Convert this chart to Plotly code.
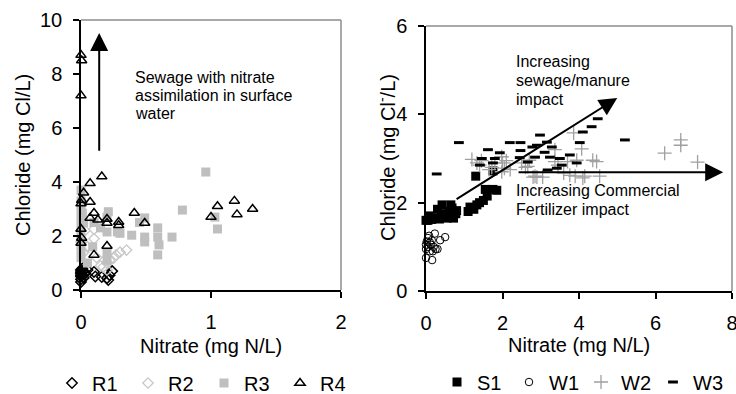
import plotly.graph_objects as go

# ---------------- Data (left panel: R1-R4) ----------------
r1_x = [0, 0, 0, 0, 0, 0, 0, 0, 0.01, 0.02, 0.03, 0.05, 0.1, 0.11, 0.16, 0.2, 0.21, 0.24, 0.22, 0.02]
r1_y = [0.3, 0.4, 0.5, 0.55, 0.6, 0.65, 0.7, 0.75, 0.8, 0.7, 0.6, 0.74, 0.67, 0.5, 0.48, 0.44, 0.37, 0.7, 0.55, 0.45]

r2_x = [0.1, 0.1, 0.35, 0.3, 0.27, 0.25, 0.22, 0.2, 0.17, 0.2, 0.03, 0.05, 0.12, 0.15, 0.0, 0.02]
r2_y = [2.25, 1.9, 1.48, 1.4, 1.3, 1.18, 1.1, 1.0, 0.85, 0.74, 2.2, 1.6, 1.2, 0.9, 1.8, 1.4]

r3_x = [0.96, 0, 0, 0, 0, 0, 0, 0, 0, 0, 0.01, 0.02, 0.2, 0.2, 0.28, 0.39, 0.49, 0.49, 0.49,
        0.59, 0.59, 0.6, 0.59, 0.7, 0.78, 0.21, 0.09, 0.2, 0.2, 1.05, 1.03, 0.3, 0.1, 0.05, 0.45, 0.15]
r3_y = [4.37, 3.7, 3.3, 3.0, 2.7, 2.4, 2.1, 1.8, 1.5, 1.2, 2.85, 2.5, 2.7, 2.15, 2.15, 2.03, 2.67, 1.96, 1.78,
        2.3, 1.96, 1.67, 1.3, 1.96, 2.96, 2.9, 1.6, 1.37, 1.1, 2.26, 2.7, 2.1, 2.5, 1.0, 2.5, 2.3]

r4_x = [0, 0.005, 0, 0.16, 0.07, 0.02, 0.005, 0, 0.07, 0.1, 0.07, 0.13, 0.2, 0.2, 0.29, 0.29, 0.41, 0.49,
        0, 0.005, 0, 0.2, 0.1, 1.05, 1.18, 1.0, 1.2, 1.32]
r4_y = [8.7, 8.5, 7.2, 4.2, 3.95, 3.6, 3.33, 3.2, 3.26, 2.85, 2.67, 2.6, 2.63, 2.48, 2.52, 2.4, 2.85, 2.48,
        2.26, 1.93, 1.74, 1.63, 1.3, 3.1, 3.3, 2.7, 2.8, 3.0]

# ---------------- Data (right panel: S1, W1-W3) ----------------
s1_x = [0.0, 0.05, 0.15, 0.25, 0.35, 0.1, 0.3, 0.42, 0.4, 0.5, 0.55, 0.6, 0.68, 0.72, 0.78, 0.8, 0.65,
        1.1, 1.15, 1.25, 1.33, 1.4, 1.5, 1.6, 1.55, 1.75, 1.85, 1.3, 1.75]
s1_y = [1.6, 1.6, 1.62, 1.65, 1.63, 1.7, 1.85, 1.95, 1.75, 1.7, 1.65, 1.8, 1.88, 1.65, 1.75, 1.82, 1.95,
        1.8, 1.9, 1.85, 1.95, 2.0, 2.05, 2.15, 2.3, 2.3, 2.28, 2.6, 2.72]

w1_x = [0, 0.05, 0.1, 0.15, 0.2, 0.25, 0.3, 0.05, 0.1, 0.23, 0.5, 0.37, 0, 0.16, 0.08, 0.0, 0.12, 0.18, 0.02]
w1_y = [1.05, 1.0, 1.1, 1.15, 1.0, 0.95, 0.95, 1.2, 0.9, 1.3, 1.22, 1.15, 0.75, 0.7, 1.25, 0.95, 1.05, 0.9, 1.12]

w2_x = [1.2, 1.33, 1.4, 1.45, 1.72, 1.8, 1.98, 2.0, 2.05, 1.98, 2.1, 2.5, 2.6, 2.7, 2.66, 2.8, 2.9, 2.85,
        3.05, 3.37, 3.37, 3.45, 3.6, 3.7, 3.76, 3.86, 3.9, 3.94, 4.07, 4.1, 4.15, 4.36, 4.46, 4.54,
        6.24, 6.66, 6.66, 7.1, 1.65, 2.2]
w2_y = [2.98, 2.9, 2.85, 2.95, 2.8, 2.9, 3.04, 2.9, 2.78, 2.7, 2.95, 2.9, 2.8, 2.96, 2.82, 2.58, 2.58, 2.6,
        2.58, 3.2, 2.93, 2.85, 2.67, 2.93, 2.62, 3.58, 2.6, 2.96, 3.22, 2.56, 2.6, 2.96, 2.93, 2.6,
        3.12, 3.42, 3.3, 2.92, 2.75, 2.75]

w3_x = [0.28, 0.86, 1.41, 1.46, 1.62, 1.8, 1.93, 2.19, 2.47, 2.47, 2.45, 2.66, 2.78, 2.9, 2.98, 3.16,
        2.85, 3.1, 3.18, 3.42, 3.55, 3.5, 3.76, 3.94, 4.02, 4.1, 4.33, 4.49, 5.2, 3.29, 3.24, 1.75]
w3_y = [2.65, 3.36, 2.85, 3.0, 3.2, 3.0, 3.13, 3.36, 3.36, 3.18, 3.02, 2.92, 3.26, 3.3, 3.53, 3.37,
        3.03, 3.14, 2.74, 2.78, 2.85, 3.0, 3.08, 2.9, 3.36, 3.6, 3.72, 3.9, 3.42, 3.26, 3.03, 2.9]

FONT = "Liberation Sans, Arial, sans-serif"

fig = go.Figure()

def sc(x, y, name, xa, ya, legend, symbol, size, color, lcolor, lw):
    fig.add_trace(go.Scatter(
        x=x, y=y, name=name, mode="markers", xaxis=xa, yaxis=ya, legend=legend,
        cliponaxis=False,
        marker=dict(symbol=symbol, size=size, color=color, line=dict(color=lcolor, width=lw)),
    ))

sc(r1_x, r1_y, "R1", "x", "y", "legend", "diamond-open", 8, "black", "black", 1.5)
sc(r2_x, r2_y, "R2", "x", "y", "legend", "diamond-open", 8, "#c8c8c8", "#c8c8c8", 1.3)
sc(r3_x, r3_y, "R3", "x", "y", "legend", "square", 9, "#bfbfbf", "#bfbfbf", 0)
sc(r4_x, r4_y, "R4", "x", "y", "legend", "triangle-up-open", 9, "black", "black", 1.5)

sc(s1_x, s1_y, "S1", "x2", "y2", "legend2", "square", 9, "black", "black", 0)
sc(w1_x, w1_y, "W1", "x2", "y2", "legend2", "circle-open", 7.5, "black", "black", 1)
sc(w2_x, w2_y, "W2", "x2", "y2", "legend2", "cross-thin-open", 10, "#a0a0a0", "#a0a0a0", 1.3)
sc(w3_x, w3_y, "W3", "x2", "y2", "legend2", "line-ew-open", 7, "black", "black", 3)

W, H = 736, 394
def px(v): return v / W
def py(v): return 1 - v / H

axis_common = dict(showgrid=False, zeroline=False, showline=True, linecolor="black", linewidth=1.5,
                   ticks="outside", ticklen=6, tickwidth=1.5, tickcolor="black", automargin=False,
                   ticklabeloverflow="allow",
                   tickfont=dict(family=FONT, size=20, color="black"))

fig.update_layout(
    width=W, height=H, margin=dict(l=0, r=0, t=0, b=0, autoexpand=False),
    paper_bgcolor="white", plot_bgcolor="white",
    font=dict(family=FONT, size=20, color="black"),
    xaxis=dict(domain=[px(81), px(341)], range=[0, 2], tickvals=[0, 1, 2], anchor="y",
               ticklabelstandoff=7, **axis_common),
    yaxis=dict(domain=[py(290), py(20)], range=[0, 10], tickvals=[0, 2, 4, 6, 8, 10], anchor="x",
               ticklabelstandoff=7, **axis_common),
    xaxis2=dict(domain=[px(426), px(732)], range=[0, 8], tickvals=[0, 2, 4, 6, 8], anchor="y2",
                ticklabelstandoff=7, **axis_common),
    yaxis2=dict(domain=[py(291), py(26)], range=[0, 6], tickvals=[0, 2, 4, 6], anchor="x2",
                ticklabelstandoff=7, **axis_common),
    legend=dict(orientation="h", x=px(52), xanchor="left", y=py(383), yanchor="middle",
                entrywidth=31, font=dict(family=FONT, size=20), bgcolor="rgba(0,0,0,0)"),
    legend2=dict(orientation="h", x=px(437), xanchor="left", y=py(382), yanchor="middle",
                 entrywidth=27, font=dict(family=FONT, size=20), bgcolor="rgba(0,0,0,0)"),
    showlegend=True,
)

# plot-area borders (grey top / right)
for xr, yr in (("x domain", "y domain"), ("x2 domain", "y2 domain")):
    fig.add_shape(type="line", xref=xr, yref=yr, x0=0, x1=1, y0=1, y1=1, line=dict(color="#8c8c8c", width=1.5))
    fig.add_shape(type="line", xref=xr, yref=yr, x0=1, x1=1, y0=0, y1=1, line=dict(color="#8c8c8c", width=1.5))

# axis titles
fig.add_annotation(text="Nitrate (mg N/L)", xref="paper", yref="paper", x=px(211), y=py(346),
                   showarrow=False, xanchor="center", yanchor="middle", font=dict(size=20))
fig.add_annotation(text="Nitrate (mg N/L)", xref="paper", yref="paper", x=px(579), y=py(345),
                   showarrow=False, xanchor="center", yanchor="middle", font=dict(size=20))
fig.add_annotation(text="Chloride (mg Cl/L)", xref="paper", yref="paper", x=px(23), y=py(155),
                   showarrow=False, textangle=-90, xanchor="center", yanchor="middle", font=dict(size=20))
fig.add_annotation(text="Chloride (mg Cl<sup>-</sup>/L)", xref="paper", yref="paper", x=px(386), y=py(158),
                   showarrow=False, textangle=-90, xanchor="center", yanchor="middle", font=dict(size=20))

# arrows
def arrow(xa, ya, x0, y0, x1, y1):
    fig.add_annotation(x=x1, y=y1, ax=x0, ay=y0, xref=xa, yref=ya, axref=xa, ayref=ya, text="",
                       showarrow=True, arrowhead=2, arrowsize=1.8, arrowwidth=2, arrowcolor="black")

arrow("x", "y", 0.14, 5.1, 0.14, 9.52)
arrow("x2", "y2", 0.76, 2.06, 5.0, 4.37)
arrow("x2", "y2", 2.38, 2.69, 7.77, 2.69)

# annotation texts
def txt(xa, ya, x, y, s):
    fig.add_annotation(x=x, y=y, xref=xa, yref=ya, text=s, showarrow=False, xanchor="left",
                       yanchor="middle", font=dict(size=16, family=FONT, color="black"))

txt("x", "y", 0.4, 7.87, "Sewage with nitrate")
txt("x", "y", 0.4, 7.2, "assimilation in surface")
txt("x", "y", 0.4, 6.52, "water")
txt("x2", "y2", 2.3, 5.2, "Increasing")
txt("x2", "y2", 2.3, 4.77, "sewage/manure")
txt("x2", "y2", 2.3, 4.34, "impact")
txt("x2", "y2", 2.3, 2.27, "Increasing Commercial")
txt("x2", "y2", 2.3, 1.84, "Fertilizer impact")

# the page body has a default 8px margin; remove it so the figure sits at the window origin
fig.write_html("out.html", config={"displayModeBar": False},
               post_script="document.body.style.margin='0px';")
